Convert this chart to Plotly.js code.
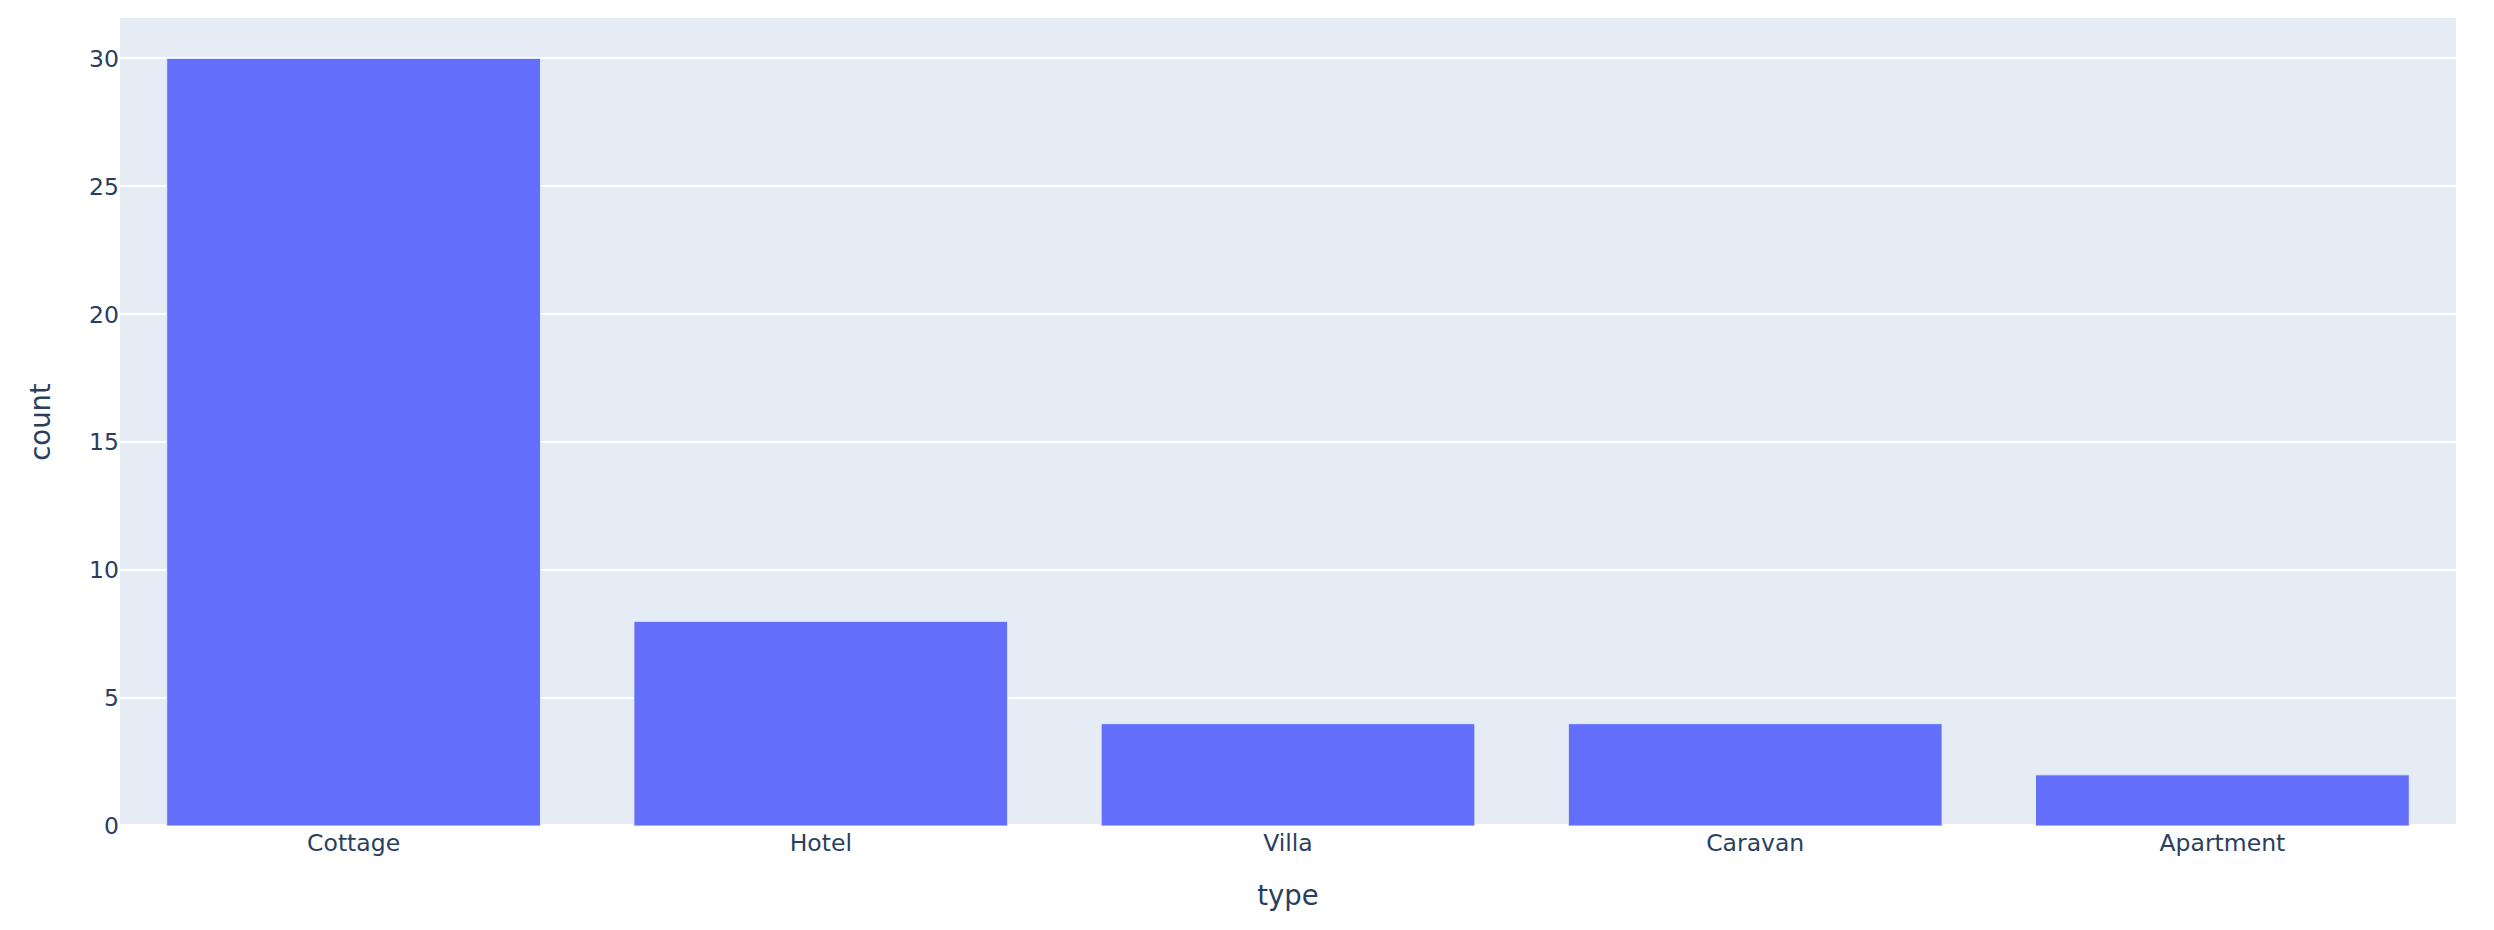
<!DOCTYPE html>
<html>
<head>
<meta charset="utf-8">
<script src="https://cdn.plot.ly/plotly-3.0.1.min.js"></script>
<style>
  html, body { margin: 0; padding: 0; background: #fff; }
  #chart { width: 2494px; height: 930px; }
</style>
</head>
<body>
<div id="chart"></div>
<script>
// accommodation types and how many of each
var types = ["Cottage", "Hotel", "Villa", "Caravan", "Apartment"];
var counts = [30, 8, 4, 4, 2];

window.onload = function() {
  var trace = {
    type: "bar",
    x: types,
    y: counts,
    marker: {
      color: "#636efa",
      line: { color: "#e5ecf6", width: 1 }
    },
    hovertemplate: "type=%{x}<br>count=%{y}<extra></extra>"
  };

  var layout = {
    width: 2494,
    height: 930,
    margin: { l: 120, r: 38, t: 18, b: 104 },
    paper_bgcolor: "#fff",
    plot_bgcolor: "#e5ecf6",
    font: { family: "DejaVu Sans, Verdana, sans-serif", size: 23.5, color: "#2a3f5f" },
    bargap: 0.2,
    showlegend: false,
    xaxis: {
      title: { text: "type", font: { size: 27.5 }, standoff: 30 },
      showgrid: false,
      zeroline: false,
      ticks: "",
      automargin: false
    },
    yaxis: {
      title: { text: "count", font: { size: 27.5 }, standoff: 30 },
      gridcolor: "#fff",
      gridwidth: 2,
      zeroline: true,
      zerolinecolor: "#fff",
      zerolinewidth: 4,
      tickvals: [0, 5, 10, 15, 20, 25, 30],
      ticks: "",
      automargin: false
    }
  };

  Plotly.newPlot("chart", [trace], layout, { displayModeBar: false, staticPlot: true });
};
</script>
</body>
</html>
